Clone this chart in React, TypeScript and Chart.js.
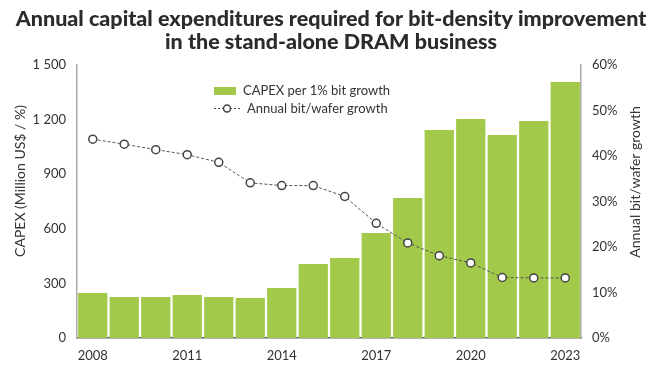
import React, { useEffect, useRef } from "react";
import { Chart, registerables } from "chart.js";
Chart.register(...registerables);

const years = ["2008","2009","2010","2011","2012","2013","2014","2015","2016","2017","2018","2019","2020","2021","2022","2023"];
const capexPer1Pct = [247, 225, 225, 236, 225, 220, 275, 407, 440, 577, 769, 1143, 1203, 1115, 1192, 1407];
const bitWaferGrowth = [43.7, 42.6, 41.4, 40.3, 38.6, 34.1, 33.5, 33.5, 31.1, 25.2, 20.9, 18.1, 16.5, 13.3, 13.2, 13.2];
const titleLines = ["Annual capital expenditures required for bit-density improvement", "in the stand-alone DRAM business"];
const barLabel = "CAPEX per 1% bit growth";
const lineLabel = "Annual bit/wafer growth";
const leftAxisTitle = "CAPEX (Million US$ / %)";
const rightAxisTitle = "Annual bit/wafer growth";

const FONT = "Lato, 'Open Sans', sans-serif";
const GREEN = "#a3c94a";
const TEXT = "#333333";

export default function App() {
  const ref = useRef<HTMLCanvasElement>(null);
  useEffect(() => {
    document.body.style.margin = "0";
    const overlay = {
      id: "overlay",
      afterDraw(chart: any) {
        const ctx = chart.ctx;
        ctx.save();
        ctx.fillStyle = "#2b2b2b";
        ctx.font = `900 21.5px ${FONT}`;
        ctx.textAlign = "center";
        ctx.textBaseline = "middle";
        ctx.fillText(titleLines[0], 331, 19);
        ctx.fillText(titleLines[1], 331, 42);
        // axis titles
        ctx.fillStyle = TEXT;
        ctx.font = `14px ${FONT}`;
        ctx.save();
        ctx.translate(20, 181);
        ctx.rotate(-Math.PI / 2);
        ctx.fillText(leftAxisTitle, 0, 0);
        ctx.restore();
        ctx.save();
        ctx.translate(635, 182);
        ctx.rotate(-Math.PI / 2);
        ctx.fillText(rightAxisTitle, 0, 0);
        ctx.restore();
        // legend
        ctx.fillStyle = GREEN;
        ctx.fillRect(214, 87, 22, 8);
        ctx.fillStyle = TEXT;
        ctx.font = `13px ${FONT}`;
        ctx.textAlign = "left";
        ctx.fillText(barLabel, 243, 91);
        ctx.strokeStyle = "#444";
        ctx.lineWidth = 1;
        ctx.setLineDash([2, 2]);
        ctx.beginPath();
        ctx.moveTo(214, 108.5);
        ctx.lineTo(240, 108.5);
        ctx.stroke();
        ctx.setLineDash([]);
        ctx.fillStyle = "#fff";
        ctx.lineWidth = 1.5;
        ctx.beginPath();
        ctx.arc(227, 108.5, 3.5, 0, Math.PI * 2);
        ctx.fill();
        ctx.stroke();
        ctx.fillStyle = TEXT;
        ctx.fillText(lineLabel, 247, 109);
        ctx.restore();
      },
    };
    const chart = new Chart(ref.current!, {
      type: "bar",
      data: {
        labels: years,
        datasets: [
          {
            type: "line",
            label: lineLabel,
            data: bitWaferGrowth,
            yAxisID: "y1",
            borderColor: "#555",
            borderWidth: 1,
            borderDash: [3, 2],
            pointRadius: 4,
            pointBackgroundColor: "#fff",
            pointBorderColor: "#444",
            pointBorderWidth: 1.5,
            tension: 0,
            order: 0,
          } as any,
          {
            type: "bar",
            label: barLabel,
            data: capexPer1Pct,
            yAxisID: "y",
            backgroundColor: GREEN,
            barPercentage: 0.93,
            categoryPercentage: 1,
            order: 1,
          },
        ],
      },
      options: {
        animation: false,
        responsive: false,
        layout: { padding: { top: 65, left: 0, right: 0, bottom: 0 } },
        plugins: { legend: { display: false }, title: { display: false }, tooltip: { enabled: false } },
        scales: {
          x: {
            grid: { display: false, drawTicks: false },
            border: { display: true, color: "#666", width: 1.5 },
            ticks: {
              autoSkip: false,
              maxRotation: 0,
              padding: 10,
              color: TEXT,
              font: { family: FONT, size: 13 },
              callback: (v: any, i: number) => (i % 3 === 0 ? years[i] : ""),
            },
            afterFit: (s: any) => { s.height = 33; },
          },
          y: {
            position: "left",
            min: 0,
            max: 1500,
            grid: { display: false, drawTicks: false },
            border: { display: true, color: "#aaa", width: 1.5 },
            ticks: {
              stepSize: 300,
              padding: 11,
              color: TEXT,
              font: { family: FONT, size: 13 },
              callback: (v: any) => (v >= 1000 ? `${Math.floor(v / 1000)} ${String(v % 1000).padStart(3, "0")}` : `${v}`),
            },
            afterFit: (s: any) => { s.width = 77; },
          },
          y1: {
            position: "right",
            min: 0,
            max: 60,
            grid: { display: false, drawTicks: false },
            border: { display: true, color: "#aaa", width: 1.5 },
            ticks: {
              stepSize: 10,
              padding: 11,
              color: TEXT,
              font: { family: FONT, size: 13 },
              callback: (v: any) => `${v}%`,
            },
            afterFit: (s: any) => { s.width = 81; },
          },
        },
      },
      plugins: [overlay],
    });
    return () => chart.destroy();
  }, []);
  return (
    <div style={{ width: 662, height: 371, position: "relative", background: "#fff" }}>
      <canvas ref={ref} width={662} height={371} style={{ width: 662, height: 371, display: "block" }} />
    </div>
  );
}
